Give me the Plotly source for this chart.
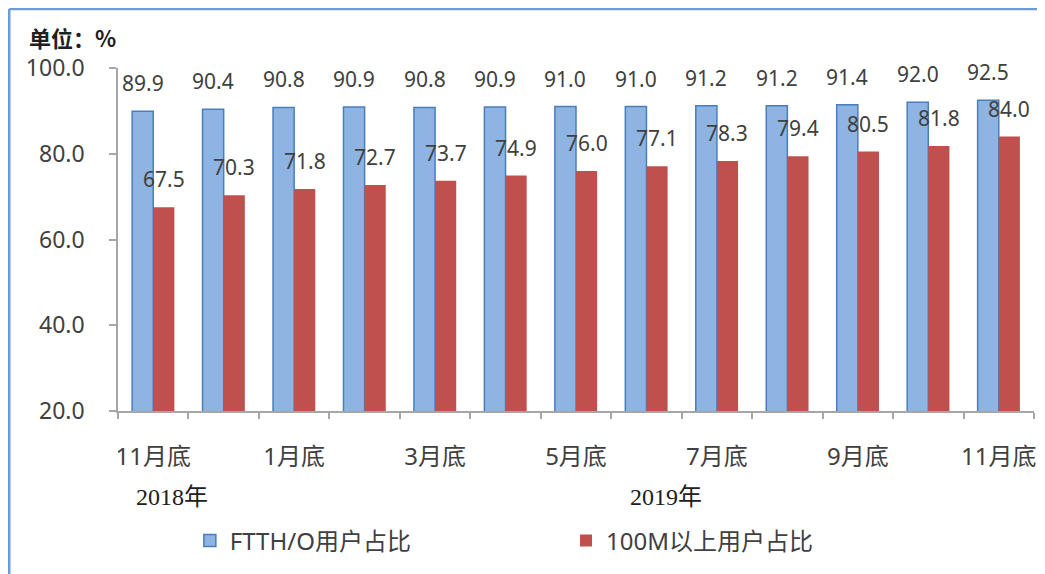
import plotly.graph_objects as go

months = ["11月底", "12月底", "1月底", "2月底", "3月底", "4月底", "5月底",
          "6月底", "7月底", "8月底", "9月底", "10月底", "11月底"]
ftth = [89.9, 90.4, 90.8, 90.9, 90.8, 90.9, 91.0, 91.0, 91.2, 91.2, 91.4, 92.0, 92.5]
m100 = [67.5, 70.3, 71.8, 72.7, 73.7, 74.9, 76.0, 77.1, 78.3, 79.4, 80.5, 81.8, 84.0]
series_names = ["FTTH/O用户占比", "100M以上用户占比"]
year_labels = ["2018年", "2019年"]
y_ticks = [20, 40, 60, 80, 100]

# page body has an 8px default margin; compensate so the figure lands like the reference
OFF = 8
W, H = 1045 - OFF, 574 - OFF
ML, MR, MT = 118 - OFF, 9, 68 - OFF
PH = 343
MB = H - MT - PH
PW = W - ML - MR

def px_x(p):
    return (p - OFF - ML) / PW

def px_y(p):
    return (MT + PH - (p - OFF)) / PH

idx = list(range(len(months)))
BW = 0.3
SANS = "Noto Sans, Noto Sans CJK SC"
TXT = "#404040"

fig = go.Figure()
fig.add_trace(go.Bar(
    x=idx, y=ftth, name=series_names[0], width=BW, offset=-BW,
    marker=dict(color="#8DB4E2", line=dict(color="#4A7EBB", width=1.5)),
    legend="legend", showlegend=True,
))
fig.add_trace(go.Bar(
    x=idx, y=m100, name=series_names[1], width=BW, offset=0,
    marker=dict(color="#C0504D", line=dict(color="#C0504D", width=0)),
    legend="legend2", showlegend=True,
))

annotations = []
for i, v in zip(idx, ftth):
    annotations.append(dict(x=i - BW / 2, y=v, xref="x", yref="y", text=f"{v:.1f}",
                            showarrow=False, yshift=28, yanchor="middle",
                            font=dict(family=SANS, size=21, color=TXT)))
for i, v in zip(idx, m100):
    annotations.append(dict(x=i + BW / 2, y=v, xref="x", yref="y", text=f"{v:.1f}",
                            showarrow=False, yshift=28, yanchor="middle",
                            font=dict(family=SANS, size=21, color=TXT)))

SERIF = "Liberation Serif, Noto Sans CJK SC"
annotations.append(dict(x=px_x(172), y=px_y(497), xref="paper", yref="paper",
                        text=year_labels[0], showarrow=False, xanchor="center", yanchor="middle",
                        font=dict(family=SERIF, size=24, color="#202020")))
annotations.append(dict(x=px_x(667), y=px_y(497), xref="paper", yref="paper",
                        text=year_labels[1], showarrow=False, xanchor="center", yanchor="middle",
                        font=dict(family=SERIF, size=24, color="#202020")))
annotations.append(dict(x=px_x(27), y=px_y(37), xref="paper", yref="paper",
                        text="<b>单位：%</b>", showarrow=False, xanchor="left", yanchor="middle",
                        font=dict(family="Noto Sans CJK SC", size=22, color="#202020")))

shapes = [
    dict(type="line", xref="paper", yref="paper", x0=px_x(9), x1=px_x(1045 + 5),
         y0=px_y(9), y1=px_y(9), line=dict(color="#6C9BD6", width=2.5)),
    dict(type="line", xref="paper", yref="paper", x0=px_x(9), x1=px_x(9),
         y0=px_y(9), y1=px_y(574 + 5), line=dict(color="#6C9BD6", width=2.5)),
]

fig.update_layout(
    width=W, height=H,
    margin=dict(l=ML, r=MR, t=MT, b=MB, pad=0),
    paper_bgcolor="white", plot_bgcolor="white",
    barmode="group", bargap=0.4, bargroupgap=0,
    showlegend=True,
    annotations=annotations, shapes=shapes,
    legend=dict(orientation="h", x=px_x(190), y=px_y(541), xanchor="left", yanchor="middle",
                font=dict(family=SANS, size=24, color=TXT), itemwidth=30,
                bgcolor="rgba(0,0,0,0)"),
    legend2=dict(orientation="h", x=px_x(567), y=px_y(541), xanchor="left", yanchor="middle",
                 font=dict(family=SANS, size=24, color=TXT), itemwidth=30,
                 bgcolor="rgba(0,0,0,0)"),
    xaxis=dict(
        range=[-0.5, len(months) - 0.5],
        tickmode="array", tickvals=idx[::2], ticktext=months[::2],
        ticks="", showline=True, linecolor="#A6A6A6", linewidth=1.5,
        showgrid=False, zeroline=False,
        tickfont=dict(family=SANS, size=24, color=TXT),
        ticklabelstandoff=23,
        minor=dict(tickmode="array", tickvals=[i - 0.5 for i in range(len(months) + 1)],
                   ticks="outside", ticklen=6, tickcolor="#A6A6A6", tickwidth=1.5,
                   showgrid=False),
    ),
    yaxis=dict(
        range=[20, 100], tickmode="array", tickvals=y_ticks, tickformat=".1f",
        ticks="outside", ticklen=7, tickcolor="#A6A6A6", tickwidth=1.5,
        showline=True, linecolor="#A6A6A6", linewidth=1.5,
        showgrid=False, zeroline=False,
        tickfont=dict(family=SANS, size=23, color=TXT),
        ticklabelstandoff=20,
    ),
)

fig.write_html("out.html")
